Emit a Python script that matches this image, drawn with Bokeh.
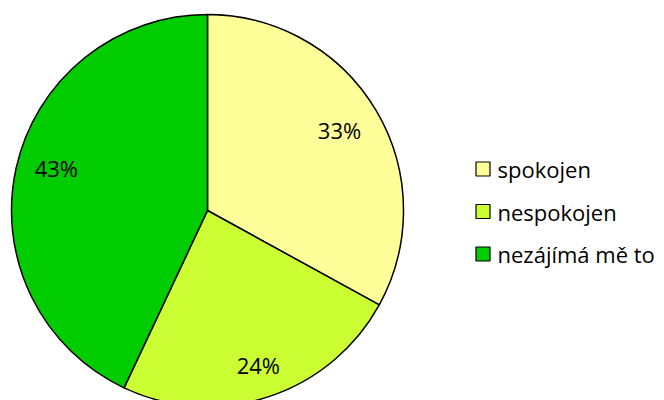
import numpy as np
from bokeh.plotting import figure
from bokeh.models import ColumnDataSource, Range1d
from bokeh.core.properties import value
from bokeh.embed import file_html
from bokeh.resources import INLINE

categories = ["spokojen", "nespokojen", "nezájímá mě to"]
shares = [33, 24, 43]
colors = ["#FFFF99", "#CCFF33", "#00CC00"]
labels = ["33%", "24%", "43%"]

W, H = 664, 400
p = figure(width=W, height=H, output_backend="svg", toolbar_location=None,
           x_range=Range1d(0, W), y_range=Range1d(0, H), min_border=0)
p.axis.visible = False
p.grid.visible = False
p.outline_line_color = None
p.background_fill_color = "white"
p.border_fill_color = "white"

cx, cy, R = 207, 190, 196
frac = np.array(shares, dtype=float) / sum(shares)
ends = np.pi / 2 - 2 * np.pi * np.cumsum(frac)
starts = np.concatenate([[np.pi / 2], ends[:-1]])
mids = (starts + ends) / 2

src = ColumnDataSource(dict(start=ends, end=starts, color=colors, cat=categories))
p.wedge(x=cx, y=cy, radius=R, start_angle="start", end_angle="end",
        fill_color="color", line_color="black", line_width=1.5, source=src)

# label placement (layout): radius and small best-fit nudges
lr = 158
nudge_x = np.array([-4, 2, 3])
nudge_y = np.array([0, -4, 8])
lsrc = ColumnDataSource(dict(x=cx + lr * np.cos(mids) + nudge_x,
                             y=cy + lr * np.sin(mids) + nudge_y, t=labels))
p.text(x="x", y="y", text="t", source=lsrc, text_align="center", text_baseline="middle",
       text_font=value("Open Sans"), text_font_size="22px", text_color="black")

ys = [231.5 - 42.5 * i for i in range(len(categories))]
gsrc = ColumnDataSource(dict(y=ys, color=colors, cat=categories))
p.rect(x=482.5, y="y", width=14, height=14, width_units="screen", height_units="screen",
       fill_color="color", line_color="black", line_width=1.2, source=gsrc)
p.text(x=497, y="y", text="cat", source=gsrc, text_align="left", text_baseline="middle",
       text_font=value("Open Sans"), text_font_size="22px", text_color="black")

open("out.html", "w").write(file_html(p, INLINE))
